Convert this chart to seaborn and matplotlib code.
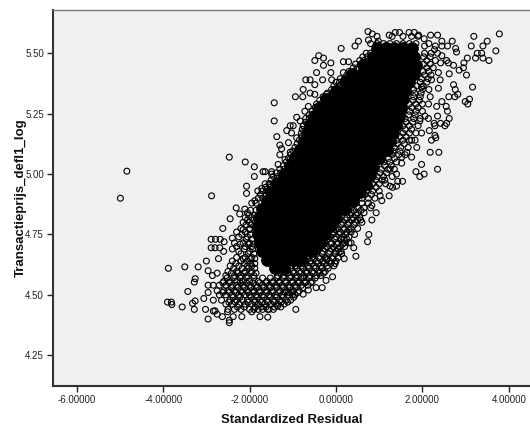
import matplotlib
matplotlib.use("Agg")
import matplotlib.pyplot as plt
import seaborn as sns
import pandas as pd

# Isolated points: (standardized residual, log price)
outliers = [
 (-4.84,5.012),(-4.99,4.90),(-2.88,4.91),(-2.47,5.07),(-2.10,5.05),(-1.89,5.03),(-1.89,4.99),(-1.69,5.01),
 (-2.07,4.95),(-2.07,4.92),(-1.81,4.93),(-1.72,4.94),(-1.88,4.89),(-2.31,4.86),(-2.11,4.855),
 (-3.88,4.61),(-3.50,4.616),(-3.19,4.616),(-3.00,4.64),(-2.96,4.60),(-3.26,4.567),(-3.28,4.553),(-3.43,4.514),
 (-3.90,4.47),(-3.81,4.47),(-3.80,4.46),(-3.56,4.45),(-3.32,4.465),(-3.26,4.475),(-3.28,4.44),(-3.02,4.44),
 (-2.96,4.40),(-2.96,4.51),(-3.06,4.485),(-2.96,4.54),(-2.84,4.54),(-2.86,4.58),(-2.75,4.59),
 (-2.89,4.73),(-2.79,4.73),(-2.68,4.73),(-2.59,4.72),(-2.89,4.695),(-2.80,4.695),(-2.69,4.695),(-2.60,4.68),
 (-2.72,4.65),(-2.62,4.775),(-2.45,4.815),(-2.23,4.835),(-2.40,4.735),(-2.40,4.69),(-2.84,4.478),(-2.84,4.433),
 (-2.80,4.434),(-2.75,4.42),(-2.63,4.41),(-2.47,4.385),(-2.47,4.395),(-2.51,4.43),(-2.38,4.41),(-2.18,4.41),
 (-1.76,4.41),(-1.95,4.43),(-1.58,4.408),(-0.93,4.44),(-1.58,4.44),(-1.35,4.454),(-1.01,4.50),(-0.76,4.503),
 (-0.64,4.52),(-0.46,4.53),(-0.32,4.53),(-0.23,4.56),(-0.08,4.575),(-0.29,4.59),(-0.02,4.63),(0.19,4.65),
 (0.46,4.66),(0.41,4.695),(0.35,4.715),(0.19,4.73),(0.43,4.75),(0.76,4.75),(0.73,4.72),(0.83,4.81),(0.93,4.84),
 (0.57,4.81),(0.07,4.675),(-0.21,4.645),(-0.72,4.55),(-0.81,4.57),(-1.10,4.51),
 (3.78,5.58),(3.19,5.57),(3.13,5.53),(3.50,5.55),(3.40,5.53),(3.70,5.51),(3.27,5.50),(3.37,5.50),(3.23,5.48),
 (3.40,5.48),(3.54,5.47),(3.04,5.48),(2.96,5.46),(2.85,5.43),(2.95,5.44),(3.02,5.41),(3.16,5.36),(2.72,5.37),
 (2.76,5.35),(2.82,5.33),(2.75,5.32),(2.61,5.32),(3.09,5.31),(2.99,5.30),(3.05,5.29),(2.55,5.28),(2.58,5.26),
 (2.35,5.24),(2.62,5.23),(2.56,5.21),(2.52,5.20),(2.42,5.21),(2.27,5.21),(2.16,5.18),(2.29,5.16),(2.21,5.14),
 (2.31,5.15),(2.18,5.09),(2.38,5.09),(2.35,5.02),(1.98,5.04),(1.85,5.01),(2.04,5.00),(1.94,4.99),(1.54,4.97),
 (1.43,4.97),(1.40,4.95),(1.31,4.945),(1.23,4.91),(1.02,4.91),(1.06,4.89),(0.83,4.87),(1.25,4.95),(1.13,4.975),
 (0.74,5.59),(0.84,5.58),(0.12,5.52),(-0.40,5.49),(-0.29,5.48),(-0.49,5.47),(-0.12,5.46),(-0.29,5.45),(-0.45,5.42),
 (-0.12,5.42),(-0.70,5.39),(-0.60,5.39),(-0.31,5.39),(-0.76,5.35),(-0.94,5.32),(-0.77,5.32),(-0.60,5.335),
 (-1.43,5.295),(-1.43,5.22),(-0.91,5.235),(-1.37,5.155),(-1.06,5.20),(-1.14,5.18),(-1.30,5.12),(-1.34,5.04),
 (-1.49,5.01),(-1.64,5.01),
 (1.37,5.586),(1.47,5.586),(1.23,5.575),(1.69,5.586),(1.81,5.586),(1.91,5.575),(2.04,5.56),(2.19,5.575),(2.35,5.575),
 (2.15,5.54),(2.45,5.55),(2.69,5.55),(2.58,5.53),(2.77,5.52),(2.79,5.505),(2.28,5.515),(2.45,5.49),(2.56,5.47),
 (2.72,5.45),(2.60,5.46),(2.37,5.42),(2.62,5.415),(2.42,5.46),(0.52,5.55),(0.44,5.53),(0.75,5.555),(0.98,5.55),
 (0.17,5.465),(0.29,5.465),(0.17,5.42),(-0.49,5.37),(-0.10,5.39),(-0.22,5.33),(-0.49,5.33),(-0.64,5.28),(-0.72,5.26),
 (-0.83,5.22),(-0.76,5.20),(-0.99,5.20),(-0.91,5.15),(-1.03,5.17),(-1.10,5.13),(-1.06,5.09),(-1.26,5.105),(-1.30,5.08),
 (-1.18,5.06),(-1.49,5.00),(-1.64,4.96),(-1.53,4.96),
 (2.21,5.39),(2.37,5.355),(2.41,5.39),(2.18,5.32),(2.33,5.28),(2.14,5.29),(2.45,5.30),(1.98,5.36),(2.06,5.24),
 (2.14,5.23),(1.94,5.22),(1.98,5.17),(1.75,5.14),(1.87,5.11),(1.64,5.09),(1.75,5.07),(1.52,5.045),(1.40,5.00),
 (1.25,5.02),(1.83,5.14),(1.67,5.11),(1.52,5.07),(2.29,5.20),
]

# Lacy, partly overlapping fringe of the cloud, read band by band
lace_levels = [4.44,4.462,4.478,4.50,4.517,4.54,4.556,4.58,4.597,4.62,4.64,4.655,4.68,4.70,4.715,4.74,4.76,4.775,4.80,4.82,4.84,4.86,4.88,
               4.90,4.93,4.96,4.99,5.02,5.05,5.08,5.11,5.14,5.17,5.20,5.23,5.26,5.29,5.32,5.35,5.38,5.41,5.44,5.47,5.50,5.53,5.54,5.57]
lace_residuals = [
 [-2.5,-2.35,-2.2,-2.0,-1.9,-1.8,-1.7,-1.55,-1.45],
 [-2.55,-2.4,-2.25,-2.1,-1.95,-1.8,-1.65,-1.5,-1.35,-1.2],
 [-2.65,-2.45,-2.3,-2.15,-2.05,-1.9,-1.75,-1.6,-1.45,-1.3,-1.15,-1.05],
 [-2.7,-2.55,-2.4,-2.25,-2.1,-2.0,-1.85,-1.7,-1.55,-1.4,-1.25,-1.1,-0.95],
 [-2.75,-2.6,-2.5,-2.35,-2.2,-2.05,-1.9,-1.75,-1.6,-1.45,-1.3,-1.15,-1.0,-0.85],
 [-2.7,-2.55,-2.4,-2.3,-2.15,-2.0,-1.85,-1.7,-1.55,-1.4,-1.25,-1.1,-0.95,-0.8,-0.65],
 [-2.6,-2.45,-2.3,-2.15,-2.0,-1.8,-1.6,-1.45,-1.3,-1.15,-1.0,-0.85,-0.7,-0.55],
 [-2.55,-2.35,-2.2,-2.05,-1.9,-1.35,-1.2,-1.05,-0.9,-0.75,-0.6,-0.45,-0.35],
 [-2.5,-2.3,-2.1,-1.95,-1.0,-0.85,-0.7,-0.55,-0.4,-0.25],
 [-2.45,-2.25,-2.05,-1.95,-0.95,-0.8,-0.65,-0.5,-0.35,-0.2,-0.05],
 [-2.4,-2.2,-2.05,-0.7,-0.6,-0.45,-0.3,-0.15,0.0],
 [-2.3,-2.1,-1.95,-0.55,-0.4,-0.25,-0.1,0.05],
 [-2.25,-2.0,-0.45,-0.3,-0.15,0.0,0.12],
 [-2.3,-2.1,-1.95,-0.35,-0.2,-0.05,0.1,0.2],
 [-2.35,-2.15,-2.0,-0.25,-0.1,0.05,0.2,0.3],
 [-2.25,-2.05,-0.15,0.0,0.15,0.3],
 [-2.3,-2.1,-0.05,0.1,0.25,0.35],
 [-2.2,-2.0,0.05,0.2,0.35,0.5],
 [-2.15,-2.0,0.15,0.3,0.45,0.6],
 [-2.1,-1.95,0.25,0.4,0.55],
 [-2.05,0.2,0.35,0.5,0.65],
 [0.35,0.5,0.65,0.8],
 [-1.95,-1.85,0.45,0.6,0.75],
 [-1.8,-1.7,0.6,0.75,0.9],
 [-1.7,-1.6,0.7,0.85,1.0],
 [-1.55,-1.45,0.85,1.0,1.15],
 [-1.45,-1.35,-1.25,0.95,1.1,1.3],
 [-1.3,-1.2,1.05,1.2,1.35],
 [-1.15,-1.05,1.1,1.25,1.4],
 [-1.05,-0.95,1.3,1.45,1.6],
 [-0.95,-0.85,1.35,1.5],
 [-0.85,1.4,1.55,1.7],
 [-0.8,1.55,1.7,1.85],
 [-0.75,1.55,1.7,1.9],
 [-0.7,-0.62,1.6,1.8,1.95],
 [-0.55,-0.45,1.7,1.85,2.0],
 [-0.45,-0.35,1.7,1.85,2.0],
 [-0.3,-0.15,1.8,1.95],
 [-0.1,0.0,1.8,2.0,2.15],
 [0.0,0.08,1.95,2.1],
 [0.25,0.35,2.05,2.2],
 [0.4,0.5,2.1,2.25],
 [0.55,0.65,2.1,2.3],
 [0.7,0.8,2.05,2.2,2.35],
 [2.05,2.3,2.45],
 [0.8,0.95,1.1,1.25,1.4,1.55,1.7,1.85],
 [0.95,1.3,1.55,1.75,1.9],
]

# Second, staggered pass over the denser lower part and the flanks of the fringe
lace2_levels = [4.45,4.47,4.49,4.51,4.53,4.55,4.57,4.59,4.61,4.63,4.65,4.67,4.69,4.71,4.73,4.75,4.77,4.79,4.81,4.83,4.85,
                4.915,4.945,4.975,5.005,5.035,5.065,5.095,5.125,5.155,5.185,5.215,5.245,5.275,5.305,5.335,5.365,5.395,5.425,5.455,5.485]
lace2_residuals = [
 [-2.28,-2.12,-1.87,-1.73,-1.62,-1.42,-1.28],
 [-2.48,-2.33,-2.03,-1.88,-1.72,-1.58,-1.43,-1.27,-1.12],
 [-2.38,-2.22,-1.97,-1.82,-1.67,-1.52,-1.37,-1.22,-0.98],
 [-2.62,-2.47,-2.32,-2.17,-2.03,-1.92,-1.77,-1.62,-1.47,-1.33,-1.18,-1.03,-0.88],
 [-2.42,-2.27,-2.12,-1.97,-1.82,-1.67,-1.52,-1.37,-1.22,-1.07,-0.92,-0.77],
 [-2.62,-2.47,-2.22,-2.07,-1.92,-1.77,-1.62,-1.47,-1.32,-1.17,-1.02,-0.87,-0.72,-0.58],
 [-2.52,-2.37,-2.22,-2.07,-1.9,-1.7,-1.52,-1.37,-1.22,-1.07,-0.92,-0.77,-0.62,-0.48],
 [-2.42,-2.27,-2.12,-1.97,-1.85,-1.27,-1.12,-0.97,-0.82,-0.67,-0.52,-0.38],
 [-2.37,-2.17,-2.02,-1.88,-1.05,-0.9,-0.77,-0.62,-0.47,-0.32,-0.18],
 [-2.32,-2.12,-1.98,-1.88,-0.87,-0.72,-0.57,-0.42,-0.27,-0.12],
 [-2.15,-1.98,-1.88,-0.65,-0.52,-0.37,-0.22,-0.07],
 [-2.2,-2.03,-1.9,-0.5,-0.32,-0.17,-0.02,0.13],
 [-2.12,-1.93,-0.4,-0.25,-0.1,0.05],
 [-2.22,-2.02,-1.9,-0.3,-0.12,0.02,0.15],
 [-2.08,-1.95,-0.2,-0.03,0.12,0.25],
 [-2.18,-1.98,-0.08,0.07,0.22],
 [-2.15,-2.0,0.0,0.18,0.3],
 [-2.08,-1.95,0.12,0.27,0.42],
 [-2.05,-1.9,0.22,0.37,0.5],
 [-2.02,-1.88,0.32,0.47],
 [-1.98,-1.85,0.28,0.42,0.58],
 [-1.75,-1.62,0.67,0.82],
 [-1.63,-1.52,0.78,0.93],
 [-1.5,-1.38,0.92,1.07],
 [-1.38,-1.28,1.02,1.17],
 [-1.22,-1.12,1.12,1.28],
 [-1.1,-1.0,1.22,1.35],
 [-1.0,-0.9,1.32,1.48],
 [-0.9,-0.8,1.42,1.58],
 [-0.8,-0.72,1.48,1.62],
 [-0.78,-0.68,1.6,1.75],
 [-0.7,-0.62,1.62,1.77],
 [-0.62,-0.52,1.68,1.83],
 [-0.48,-0.38,1.75,1.9],
 [-0.38,-0.25,1.78,1.93],
 [-0.2,-0.08,1.82,1.97],
 [-0.05,0.07,1.87,2.02],
 [0.1,0.2,1.98,2.13],
 [0.3,0.42,2.02,2.15],
 [0.45,0.57,2.03,2.18],
 [0.62,0.72,2.03,2.18],
]

# Solid black mass where the rings overlap completely, read as a coarse sample
core_levels = [5.52,5.485,5.45,5.415,5.38,5.345,5.31,5.275,5.24,5.205,5.17,5.135,5.10,5.065,5.03,4.995,4.96,4.925,4.89,4.855,4.82,4.785,4.75,4.715,4.68,4.645,4.61]
core_residuals = [
 [0.95,1.15,1.35,1.55,1.75],
 [0.85,1.05,1.25,1.45,1.65,1.8],
 [0.62,0.8,1.0,1.2,1.4,1.6,1.8,1.85],
 [0.38,0.6,0.8,1.0,1.2,1.4,1.6,1.8],
 [0.2,0.4,0.6,0.8,1.0,1.2,1.4,1.55,1.7],
 [0.0,0.2,0.4,0.6,0.8,1.0,1.2,1.4,1.6],
 [-0.22,-0.02,0.18,0.38,0.58,0.78,0.98,1.18,1.38,1.55],
 [-0.4,-0.2,0.0,0.2,0.4,0.6,0.8,1.0,1.2,1.4,1.5],
 [-0.52,-0.32,-0.12,0.08,0.28,0.48,0.68,0.88,1.08,1.28,1.45],
 [-0.6,-0.4,-0.2,0.0,0.2,0.4,0.6,0.8,1.0,1.2,1.4],
 [-0.66,-0.46,-0.26,-0.06,0.14,0.34,0.54,0.74,0.94,1.14,1.32],
 [-0.72,-0.52,-0.32,-0.12,0.08,0.28,0.48,0.68,0.88,1.08,1.25],
 [-0.83,-0.63,-0.43,-0.23,-0.03,0.17,0.37,0.57,0.77,0.97,1.17],
 [-0.95,-0.75,-0.55,-0.35,-0.15,0.05,0.25,0.45,0.65,0.85,1.0],
 [-1.06,-0.86,-0.66,-0.46,-0.26,-0.06,0.14,0.34,0.54,0.74,0.86],
 [-1.2,-1.0,-0.8,-0.6,-0.4,-0.2,0.0,0.2,0.4,0.6,0.78],
 [-1.37,-1.17,-0.97,-0.77,-0.57,-0.37,-0.17,0.03,0.23,0.43,0.6,0.7],
 [-1.5,-1.3,-1.1,-0.9,-0.7,-0.5,-0.3,-0.1,0.1,0.3,0.55],
 [-1.6,-1.4,-1.2,-1.0,-0.8,-0.6,-0.4,-0.2,0.0,0.2,0.4],
 [-1.72,-1.52,-1.32,-1.12,-0.92,-0.72,-0.52,-0.32,-0.12,0.08,0.2],
 [-1.78,-1.58,-1.38,-1.18,-0.98,-0.78,-0.58,-0.38,-0.18,0.0],
 [-1.8,-1.6,-1.4,-1.2,-1.0,-0.8,-0.6,-0.4,-0.2,-0.12],
 [-1.8,-1.6,-1.4,-1.2,-1.0,-0.8,-0.6,-0.4,-0.25],
 [-1.75,-1.55,-1.35,-1.15,-0.95,-0.75,-0.55,-0.38],
 [-1.72,-1.52,-1.32,-1.12,-0.92,-0.72,-0.55],
 [-1.6,-1.4,-1.2,-1.0,-0.82],
 [-1.42,-1.2],
]

x_ticks = [-6, -4, -2, 0, 2, 4]
y_ticks = [4.25, 4.50, 4.75, 5.00, 5.25, 5.50]

ring_x = ([p[0] for p in outliers]
          + [v for row in lace_residuals for v in row]
          + [v for row in lace2_residuals for v in row])
ring_y = ([p[1] for p in outliers]
          + [lv for lv, row in zip(lace_levels, lace_residuals) for _ in row]
          + [lv for lv, row in zip(lace2_levels, lace2_residuals) for _ in row])
rings = pd.DataFrame({"Standardized Residual": ring_x, "Transactieprijs_defl1_log": ring_y})
core = pd.DataFrame({
    "Standardized Residual": [v for row in core_residuals for v in row],
    "Transactieprijs_defl1_log": [lv for lv, row in zip(core_levels, core_residuals) for _ in row],
})

sns.set_theme(style="white")
plt.rcParams["font.family"] = ["Liberation Sans", "DejaVu Sans"]

fig = plt.figure(figsize=(5.30, 4.25), dpi=100)
ax = fig.add_axes([53/530, 1 - 385.5/425, 477/530, 375.5/425])
ax.set_facecolor("#f0f0f0")

sns.scatterplot(data=core, x="Standardized Residual", y="Transactieprijs_defl1_log", ax=ax,
                s=85, color="black", edgecolor="black", linewidth=0, legend=False, zorder=2)
sns.scatterplot(data=rings, x="Standardized Residual", y="Transactieprijs_defl1_log", ax=ax,
                s=18, facecolor="none", edgecolor="black", linewidth=0.8, legend=False, zorder=3)

ax.set_xlim(-6.55, 4.49)
ax.set_ylim(4.125, 5.679)
ax.set_xticks(x_ticks)
ax.set_xticklabels([f"{t:.5f}" for t in x_ticks])
ax.set_yticks(y_ticks)
ax.set_yticklabels([f"{t:.2f}" for t in y_ticks])
ax.tick_params(axis="both", length=4, width=1, color="#222222", labelsize=7, labelcolor="#222222",
               bottom=True, left=True, pad=2.5)
ax.set_xlabel("Standardized Residual", fontsize=9.5, fontweight="bold", color="#111111", labelpad=7)
ax.set_ylabel("Transactieprijs_defl1_log", fontsize=9.5, fontweight="bold", color="#111111", labelpad=-1)

for side in ("left", "bottom"):
    ax.spines[side].set_color("#333333")
    ax.spines[side].set_linewidth(1.5)
ax.spines["top"].set_color("#777777")
ax.spines["top"].set_linewidth(1)
ax.spines["right"].set_visible(False)

fig.savefig("out.png", dpi=100)
